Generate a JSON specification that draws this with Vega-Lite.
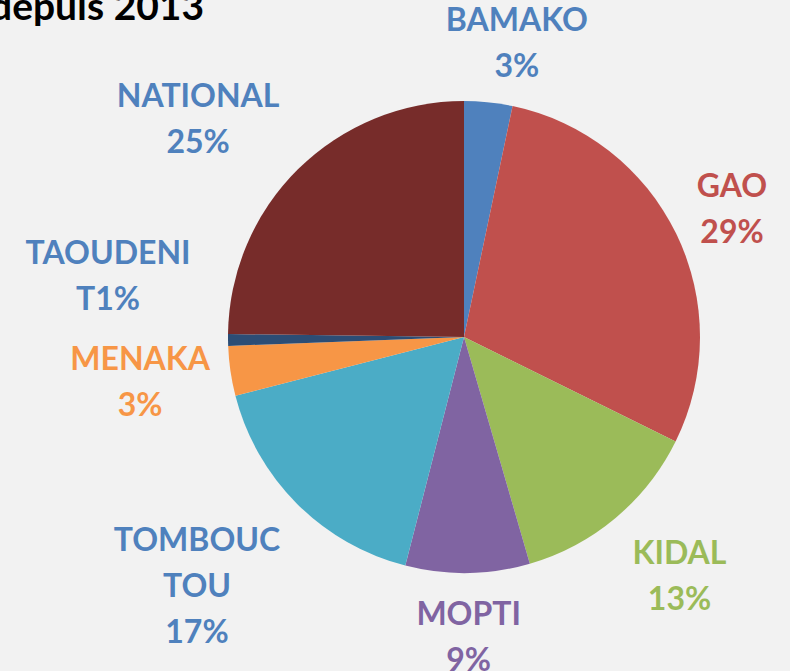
{
  "$schema": "https://vega.github.io/schema/vega-lite/v6.json",
  "autosize": {"type": "none"},
  "width": 652,
  "height": 668,
  "padding": {"left": 138, "top": 3, "right": 0, "bottom": 0},
  "background": "#f2f2f2",
  "view": {"stroke": null},
  "config": {
    "title": {"font": "Lato", "fontSize": 39, "fontWeight": "bold", "color": "#000000"}
  },
  "title": {
    "text": "depuis 2013",
    "anchor": "start",
    "frame": "group",
    "orient": "none",
    "baseline": "alphabetic",
    "offset": 0,
    "dx": -148,
    "dy": 17,
    "font": "Lato",
    "fontSize": 39,
    "fontWeight": "bold",
    "color": "#000000"
  },
  "data": {
    "values": [
      {"idx": 1, "region": "BAMAKO", "pct": 3.3, "label": "BAMAKO|3%", "grp": "b"},
      {"idx": 2, "region": "GAO", "pct": 29.0, "label": "GAO|29%", "grp": "a"},
      {"idx": 3, "region": "KIDAL", "pct": 13.2, "label": "KIDAL|13%", "grp": "k"},
      {"idx": 4, "region": "MOPTI", "pct": 8.5, "label": "MOPTI|9%", "grp": "a"},
      {"idx": 5, "region": "TOMBOUCTOU", "pct": 17.0, "label": "TOMBOUC|TOU|17%", "grp": "t"},
      {"idx": 6, "region": "MENAKA", "pct": 3.4, "label": "MENAKA|3%", "grp": "m"},
      {"idx": 7, "region": "TAOUDENIT", "pct": 0.8, "label": "TAOUDENI|T1%", "grp": "c"},
      {"idx": 8, "region": "NATIONAL", "pct": 24.8, "label": "NATIONAL|25%", "grp": "n"}
    ]
  },
  "encoding": {
    "theta": {"field": "pct", "type": "quantitative", "stack": true},
    "order": {"field": "idx", "type": "quantitative"},
    "color": {
      "field": "region",
      "type": "nominal",
      "legend": null,
      "scale": {
        "domain": ["BAMAKO", "GAO", "KIDAL", "MOPTI", "TOMBOUCTOU", "MENAKA", "TAOUDENIT", "NATIONAL"],
        "range": ["#4F81BD", "#C0504D", "#9BBB59", "#8064A2", "#4BACC6", "#F79646", "#2C4D75", "#772C2A"]
      }
    }
  },
  "layer": [
    {
      "mark": {"type": "arc", "outerRadius": 236}
    },
    {
      "mark": {"type": "text", "radius": 298, "dy": -20, "font": "Lato", "fontSize": 32, "fontWeight": "bold", "lineBreak": "|", "lineHeight": 46, "baseline": "middle", "align": "center"},
      "encoding": {
        "text": {"condition": {"test": "datum.grp == 'a'", "field": "label"}, "value": ""},
        "color": {"value": "#C0504D", "condition": [
          {"test": "datum.region == 'MOPTI'", "value": "#8064A2"}
        ]}
      }
    },
    {
      "mark": {"type": "text", "radius": 298, "dx": 22, "dy": -20, "font": "Lato", "fontSize": 32, "fontWeight": "bold", "lineBreak": "|", "lineHeight": 46, "baseline": "middle", "align": "center"},
      "encoding": {
        "text": {"condition": {"test": "datum.grp == 'b'", "field": "label"}, "value": ""},
        "color": {"value": "#4F81BD"}
      }
    },
    {
      "mark": {"type": "text", "radius": 298, "dx": -29, "dy": -20, "font": "Lato", "fontSize": 32, "fontWeight": "bold", "lineBreak": "|", "lineHeight": 46, "baseline": "middle", "align": "center"},
      "encoding": {
        "text": {"condition": {"test": "datum.grp == 'm'", "field": "label"}, "value": ""},
        "color": {"value": "#F79646"}
      }
    },
    {
      "mark": {"type": "text", "radius": 320, "dx": 10, "dy": -28, "font": "Lato", "fontSize": 32, "fontWeight": "bold", "lineBreak": "|", "lineHeight": 46, "baseline": "middle", "align": "center"},
      "encoding": {
        "text": {"condition": {"test": "datum.grp == 'k'", "field": "label"}, "value": ""},
        "color": {"value": "#9BBB59"}
      }
    },
    {
      "mark": {"type": "text", "radius": 340, "dx": -27, "dy": 2, "font": "Lato", "fontSize": 32, "fontWeight": "bold", "lineBreak": "|", "lineHeight": 46, "baseline": "middle", "align": "center"},
      "encoding": {
        "text": {"condition": {"test": "datum.grp == 'n'", "field": "label"}, "value": ""},
        "color": {"value": "#4F81BD"}
      }
    },
    {
      "mark": {"type": "text", "radius": 355, "dx": -16, "dy": -47, "font": "Lato", "fontSize": 32, "fontWeight": "bold", "lineBreak": "|", "lineHeight": 46, "baseline": "middle", "align": "center"},
      "encoding": {
        "text": {"condition": {"test": "datum.grp == 't'", "field": "label"}, "value": ""},
        "color": {"value": "#4F81BD"}
      }
    },
    {
      "mark": {"type": "text", "radius": 356, "dy": -87, "font": "Lato", "fontSize": 32, "fontWeight": "bold", "lineBreak": "|", "lineHeight": 46, "baseline": "middle", "align": "center"},
      "encoding": {
        "text": {"condition": {"test": "datum.grp == 'c'", "field": "label"}, "value": ""},
        "color": {"value": "#4F81BD"}
      }
    }
  ]
}
